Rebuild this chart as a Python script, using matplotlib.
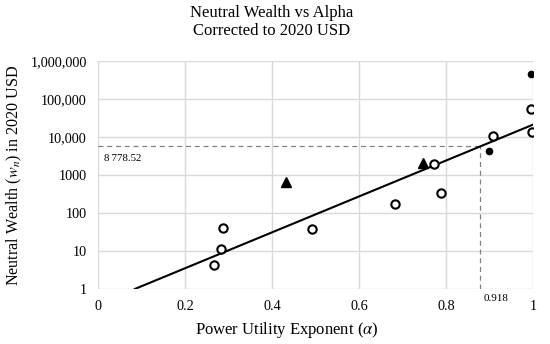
import numpy as np
import matplotlib.pyplot as plt

# values
open_alpha = [0.267, 0.284, 0.287, 0.493, 0.682, 0.772, 0.789, 0.909, 0.995, 0.998]
open_w = [4.3, 11, 40, 37, 172, 1950, 340, 10800, 55000, 13300]

tri_alpha = [0.432, 0.748]
tri_w = [665, 2030]

dot_alpha = [0.899, 0.995]
dot_w = [4350, 447000]

fit_alpha = [0.085, 1.0]
fit_w = [1.0, 21000]

# annotation (drawn where the reference draws it)
mark_alpha = 0.878
mark_w = 5800
mark_alpha_label = "0.918"
mark_w_label = "8\u2009778.52"

xticks = [0, 0.2, 0.4, 0.6, 0.8, 1]
xtick_labels = ["0", "0.2", "0.4", "0.6", "0.8", "1"]
yticks = [1, 10, 100, 1000, 10000, 100000, 1000000]
ytick_labels = ["1", "10", "100", "1000", "10,000", "100,000", "1,000,000"]

plt.rcParams['font.family'] = ['Liberation Serif', 'DejaVu Serif']
plt.rcParams['mathtext.fontset'] = 'stix'

fig = plt.figure(figsize=(5.5, 3.44), dpi=100)
ax = fig.add_axes([0.178, 0.160, 0.791, 0.663])

ax.set_yscale('log')
ax.set_xlim(0, 1)
ax.set_ylim(1, 1000000)

ax.grid(True, color='#d9d9d9', linewidth=1.0)
ax.set_axisbelow(True)
for s in ax.spines.values():
    s.set_visible(False)

ax.plot(fit_alpha, fit_w, color='black', linewidth=1.5, zorder=3)

# dashed guide lines
ax.plot([0, mark_alpha], [mark_w, mark_w], color='#808080', linestyle=(0, (4, 3)), linewidth=0.9, zorder=2)
ax.plot([mark_alpha, mark_alpha], [1, mark_w], color='#808080', linestyle=(0, (4, 3)), linewidth=0.9, zorder=2)

ax.plot(open_alpha, open_w, linestyle='none', marker='o', markersize=6,
        markerfacecolor='white', markeredgecolor='black', markeredgewidth=1.5, zorder=4)
ax.plot(tri_alpha, tri_w, linestyle='none', marker='^', markersize=7,
        color='black', zorder=4)
ax.plot(dot_alpha, dot_w, linestyle='none', marker='o', markersize=4.5,
        color='black', zorder=4)

ax.set_xticks(xticks)
ax.set_xticklabels(xtick_labels)
ax.yaxis.set_major_locator(plt.FixedLocator(yticks))
ax.yaxis.set_minor_locator(plt.NullLocator())
ax.set_yticklabels(ytick_labels)
ax.tick_params(length=0, labelsize=10.3, pad=8)

ax.text(0.015, mark_w * 0.62, mark_w_label, fontsize=7.8, va='top', ha='left')
ax.text(mark_alpha + 0.008, 0.72, mark_alpha_label, fontsize=8, va='top', ha='left')

ax.set_xlabel(r"Power Utility Exponent ($\alpha$)", fontsize=12)
ax.xaxis.set_label_coords(0.434, -0.135)
ax.set_ylabel(r"Neutral Wealth ($w_n$) in 2020 USD", fontsize=11.6)
ax.yaxis.set_label_coords(-0.17, 0.5)

fig.suptitle("Neutral Wealth vs Alpha\nCorrected to 2020 USD", fontsize=12, x=0.493, y=0.985, linespacing=1.15)

fig.savefig("out.png", dpi=100)
